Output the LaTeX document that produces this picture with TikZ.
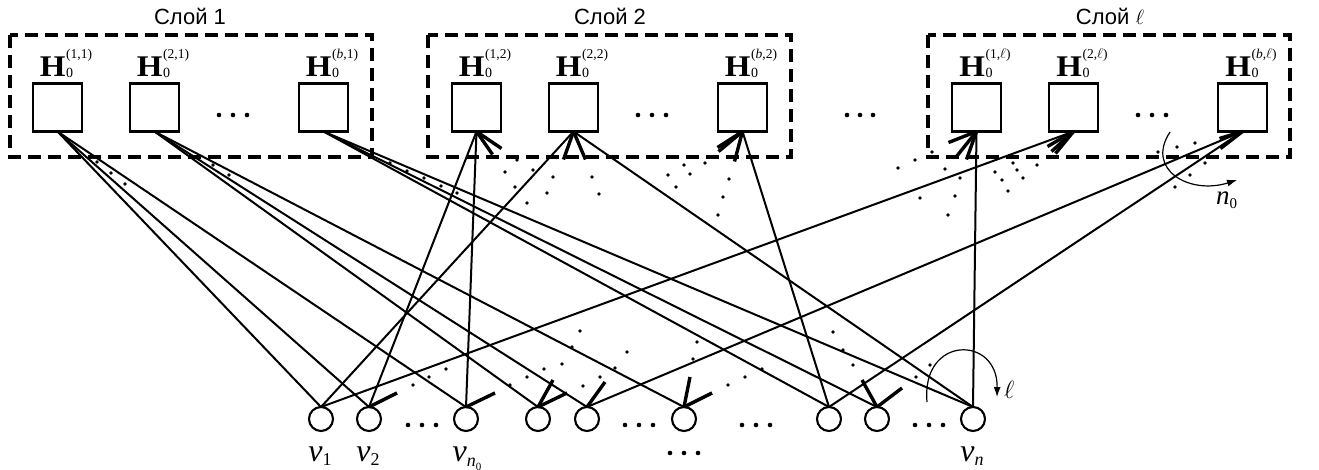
\documentclass[tikz,border=0pt]{standalone}
\usepackage{fontspec}
\setmainfont{Liberation Serif}
\newfontfamily\sansru{Liberation Sans}
\usetikzlibrary{arrows.meta}
\newcommand{\Hlab}[1]{\scalebox{1.1}[1]{\fontsize{30}{30}\selectfont\bfseries H}\kern0.5pt\rlap{\raisebox{-0.5pt}{\fontsize{14}{14}\selectfont 0}}\raisebox{18pt}{\fontsize{13.5}{13.5}\selectfont(#1)}}
\newcommand{\Vlab}[1]{{\fontsize{32}{32}\selectfont\itshape v}\raisebox{-4pt}{\fontsize{18}{18}\selectfont #1}}
\begin{document}
\begin{tikzpicture}[x=1pt,y=-1pt,
  blk/.style={draw, line width=2.2pt, minimum width=49pt, minimum height=48pt, inner sep=0pt, outer sep=0pt},
  var/.style={draw, circle, line width=2.1pt, minimum size=24pt, inner sep=0pt, outer sep=0pt},
  grp/.style={draw, line width=3.4pt, dash pattern=on 13pt off 7pt},
  edge/.style={line width=2pt},
  barb/.style={line width=3.4pt},
  hlabel/.style={anchor=base, inner sep=0pt},
  vlabel/.style={anchor=base, inner sep=0pt},
  layer/.style={anchor=base, inner sep=0pt, font=\sansru\fontsize{22}{22}\selectfont},
  arc/.style={line width=1.2pt, -{Latex[length=10pt,width=7pt]}}
]
\path[use as bounding box] (0,0) rectangle (1319,470);

% layer titles
\node[layer] (t1) at (190,25) {Слой 1};
\node[layer] (t2) at (610,25) {Слой 2};
\node[layer] (tl) at (1110,25) {Слой $\ell$};

% dashed group boxes
\draw[grp] (10,35) rectangle (372,157);
\draw[grp] (428,35) rectangle (791,157);
\draw[grp] (928,35) rectangle (1290,157);

% blocks
\node[blk] (H11) at (57.5,107.5) {};
\node[blk] (H21) at (154.5,107.5) {};
\node[blk] (Hb1) at (323.5,107.5) {};
\node[blk] (H12) at (476.5,107.5) {};
\node[blk] (H22) at (573.5,107.5) {};
\node[blk] (Hb2) at (742.5,107.5) {};
\node[blk] (H1l) at (976.5,107.5) {};
\node[blk] (H2l) at (1073.5,107.5) {};
\node[blk] (Hbl) at (1242.5,107.5) {};

% block labels
\node[hlabel] (lH11) at (66,77) {\Hlab{1,1}};
\node[hlabel] (lH21) at (163,77) {\Hlab{2,1}};
\node[hlabel] (lHb1) at (332,77) {\Hlab{\textit{b},1}};
\node[hlabel] (lH12) at (485,77) {\Hlab{1,2}};
\node[hlabel] (lH22) at (582,77) {\Hlab{2,2}};
\node[hlabel] (lHb2) at (751,77) {\Hlab{\textit{b},2}};
\node[hlabel] (lH1l) at (985,77) {\Hlab{1,$\ell$}};
\node[hlabel] (lH2l) at (1082,77) {\Hlab{2,$\ell$}};
\node[hlabel] (lHbl) at (1251,77) {\Hlab{\textit{b},$\ell$}};

% ellipsis dots in the groups and between
\foreach \x in {219,233,247, 638,652,666, 1138,1152,1166, 847,860,873}
  \fill (\x,115) circle (2.3pt);

% variable nodes
\node[var] (v1) at (321,419) {};
\node[var] (v2) at (369,419) {};
\node[var] (vn0) at (466,419) {};
\node[var] (c4) at (538,419) {};
\node[var] (c5) at (587,419) {};
\node[var] (c6) at (684,419) {};
\node[var] (c7) at (829,419) {};
\node[var] (c8) at (877,419) {};
\node[var] (vn) at (973,419) {};

% bottom ellipsis
\foreach \x in {408,422,436, 625,639,653, 742,756,770, 915,929,943}
  \fill (\x,425) circle (2.3pt);
\foreach \x in {670,684,698}
  \fill (\x,453) circle (2.3pt);

% variable labels
\node[vlabel] (lv1) at (320,461) {\Vlab{1}};
\node[vlabel] (lv2) at (368,461) {\Vlab{2}};
\node[vlabel] (lvn0) at (467,461) {{\fontsize{32}{32}\selectfont\itshape v}\raisebox{-5pt}{\fontsize{18}{18}\selectfont\itshape n}\raisebox{-9pt}{\fontsize{11}{11}\selectfont 0}};
\node[vlabel] (lvn) at (972,461) {\Vlab{\itshape n}};

% layer 1 edges
\draw[edge] (H11.south) -- (v1.north);
\draw[edge] (H11.south) -- (v2.north);
\draw[edge] (H11.south) -- (vn0.north);
\draw[edge] (H21.south) -- (c4.north);
\draw[edge] (H21.south) -- (c5.north);
\draw[edge] (H21.south) -- (c6.north);
\draw[edge] (Hb1.south) -- (c7.north);
\draw[edge] (Hb1.south) -- (c8.north);
\draw[edge] (Hb1.south) -- (vn.north);

% layer 2 edges
\draw[edge] (v2.north) -- (H12.south);
\draw[edge] (vn0.north) -- (H12.south);
\draw[edge] (v1.north) -- (H22.south);
\draw[edge] (vn.north) -- (H22.south);
\draw[edge] (c7.north) -- (Hb2.south);

% layer l edges
\draw[edge] (vn.north) -- (H1l.south);
\draw[edge] (v1.north) -- (H2l.south);
\draw[edge] (c5.north) -- (Hbl.south);
\draw[edge] (c7.north) -- (Hbl.south);

% arrow barbs at the blocks
\draw[barb] (H12.south) -- ++(25,17);
\draw[barb] (H12.south) -- ++(16,23);
\draw[barb] (H22.south) -- ++(-10,28);
\draw[barb] (H22.south) -- ++(12,28);
\draw[barb] (Hb2.south) -- ++(-25,16);
\draw[barb] (Hb2.south) -- ++(-24,20);
\draw[barb] (Hb2.south) -- ++(-8,30);
\draw[barb] (H1l.south) -- ++(-28,11);
\draw[barb] (H1l.south) -- ++(-20,25);
\draw[barb] (H1l.south) -- ++(-10,28);
\draw[barb] (H2l.south) -- ++(-26,15);
\draw[barb] (H2l.south) -- ++(-22,20);
\draw[barb] (H2l.south) -- ++(-18,22);
\draw[barb] (Hbl.south) -- ++(-23,7);
\draw[barb] (Hbl.south) -- ++(-22,17);

% stubs at the variable nodes
\draw[barb] (v2.north) -- ++(28,-14);
\draw[barb] (vn0.north) -- ++(29,-14);
\draw[barb] (c4.north) -- ++(15,-27);
\draw[barb] (c4.north) -- ++(29,-14);
\draw[barb] (c5.north) -- ++(18,-25);
\draw[barb] (c6.north) -- ++(6,-30);
\draw[barb] (c6.north) -- ++(28,-14);
\draw[barb] (c8.north) -- ++(-15,-27);
\draw[barb] (c8.north) -- ++(25,-19);

% small scattered dots
\foreach \p in {(97,162),(111,173),(125,184),(213,165),(229,175),
  (390,163),(407,171),(424,178),(441,186),(457,193),
  (505,172),(517,160),(533,170),(515,187),(527,203),(547,193),(553,177),
  (592,177),(599,194),(668,175),(676,187),(684,165),(690,174),(705,163),
  (718,215),(723,197),(729,179),
  (898,168),(915,160),(932,152),(945,169),(960,178),(955,196),(920,198),(948,215),
  (995,172),(1002,180),(1008,191),(1013,163),(1017,170),(1023,178),(1032,157),(1037,165),
  (1158,152),(1177,147),(1195,143),(1190,175),(1205,163),(1175,187),
  (413,385),(429,377),(446,369),(510,385),(527,377),(544,369),(562,364),(572,347),(580,331),
  (583,386),(600,377),(615,368),(627,352),(697,342),(693,359),(728,385),(745,377),(762,369),
  (833,332),(843,350),(853,365),(916,377),(930,365)}
  \fill \p circle (1.8pt);

% cyclic arcs
\draw[arc] (927,402) .. controls (921,335) and (998,335) .. (997,397);
\node[anchor=base west, inner sep=0pt, font=\fontsize{24}{24}\selectfont] (lell) at (1004,398) {$\ell$};
\draw[arc] (1170,132) .. controls (1145,170) and (1190,195) .. (1237,180);
\node[anchor=base west, inner sep=0pt] (ln0) at (1216,205) {{\fontsize{27}{27}\selectfont\itshape n}\raisebox{-4pt}{\fontsize{15}{15}\selectfont 0}};
\end{tikzpicture}
\end{document}
